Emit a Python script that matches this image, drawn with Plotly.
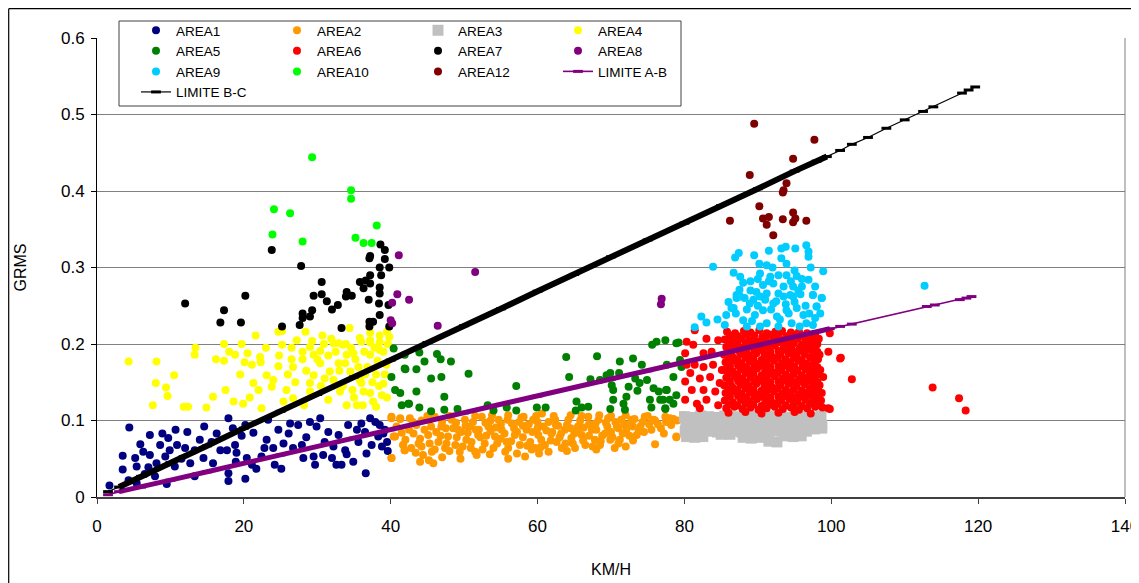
import plotly.graph_objects as go

# ---------------- data ----------------
AREA1 = [(4.4,0.091),(3.5,0.054),(3.5,0.036),(1.7,0.015),(5.2,0.051),(5.4,0.040),(5.9,0.069),(6.3,0.059),
         (7.2,0.081),(7.2,0.055),(7.0,0.039),(4.3,0.022),(5.4,0.018),(7.9,0.027),(8.1,0.044),(8.6,0.068),
         (8.9,0.083),(9.3,0.053),(9.5,0.017),(9.7,0.077),(9.9,0.061),(10.7,0.088),(10.9,0.068),(10.6,0.040),
         (12.3,0.085),(12.0,0.064),(12.7,0.044),(13.3,0.061),(13.3,0.027),(14.6,0.092),(14.5,0.051),(15.6,0.072),
         (15.8,0.044),(16.8,0.061),(17.9,0.103),(17.7,0.061),(17.9,0.031),(17.9,0.021),(18.5,0.090),(18.8,0.068),
         (18.9,0.046),(19.7,0.080),(20.2,0.094),(20.4,0.051),(20.2,0.024),(21.1,0.042),(21.3,0.084),(21.7,0.037),
         (22.4,0.053),(23.1,0.075),(23.3,0.101),(24.0,0.064),(24.2,0.042),(24.7,0.088),(25.1,0.037),(25.4,0.070),
         (26.1,0.083),(26.3,0.096),(26.7,0.064),(27.4,0.094),(27.9,0.068),(28.1,0.051),(29.0,0.098),(29.5,0.053),
         (29.7,0.042),(29.9,0.092),(30.4,0.103),(30.8,0.055),(31.5,0.085),(32.0,0.051),(32.2,0.066),(32.6,0.042),
         (32.9,0.081),(33.3,0.042),(33.8,0.061),(34.2,0.094),(34.9,0.046),(35.4,0.088),(35.6,0.072),(36.5,0.085),
         (36.6,0.031),(36.7,0.057),(37.2,0.103),(37.4,0.068),(37.9,0.098),(38.3,0.079),(38.8,0.066),(39.2,0.088),
         (39.5,0.072),(11.5,0.050),(6.5,0.030),(14.0,0.075),(16.3,0.083),(19.0,0.058),(22.8,0.064),(28.5,0.078),
         (31.0,0.072),(34.0,0.056),(36.0,0.096),(38.5,0.094),(39.0,0.083),(39.6,0.060)]

AREA2 = [(40.1,0.105),(40.4,0.079),(40.1,0.051),(41.3,0.102),(42.6,0.103),(41.7,0.068),(41.9,0.061),(43.1,0.083),
         (43.5,0.094),(43.8,0.070),(44.2,0.066),(44.4,0.055),(44.9,0.101),(45.1,0.081),(45.6,0.059),(45.8,0.044),
         (46.0,0.105),(46.5,0.072),(46.9,0.092),(47.4,0.064),(47.8,0.079),(48.3,0.101),(48.8,0.068),(49.2,0.088),
         (49.4,0.059),(50.1,0.101),(50.3,0.075),(50.8,0.092),(51.5,0.059),(51.7,0.055),(51.9,0.081),(52.4,0.105),
         (52.8,0.070),(53.3,0.092),(54.0,0.064),(54.2,0.079),(54.7,0.101),(55.1,0.088),(55.6,0.059),(55.8,0.072),
         (56.5,0.096),(56.9,0.081),(57.2,0.057),(57.6,0.068),(58.1,0.105),(58.3,0.053),(58.5,0.088),(59.0,0.072),
         (59.4,0.101),(59.6,0.064),(60.1,0.081),(60.6,0.109),(60.8,0.092),(61.0,0.068),(61.5,0.059),(61.9,0.083),
         (62.4,0.101),(62.6,0.072),(63.3,0.064),(63.7,0.088),(64.2,0.101),(64.6,0.077),(65.1,0.064),(65.5,0.092),
         (66.0,0.081),(66.5,0.068),(66.9,0.105),(67.4,0.088),(67.8,0.075),(68.3,0.101),(68.5,0.068),(69.2,0.083),
         (69.6,0.103),(69.9,0.075),(70.5,0.064),(70.8,0.092),(71.4,0.101),(72.1,0.088),(71.2,0.075),(72.8,0.101),
         (73.0,0.092),(73.5,0.081),(74.6,0.105),(75.8,0.101),(76.0,0.069),(77.4,0.105),(78.5,0.102),(78.9,0.078),
         (78.0,0.103),(78.9,0.079),(79.8,0.107),(40.1,0.103),(41.3,0.103),(40.6,0.079),(41.7,0.068),(41.9,0.061),
         (40.1,0.051),(42.5,0.088),(43.0,0.098),(44.0,0.076),(45.5,0.092),(46.2,0.085),(47.0,0.098),(47.6,0.070),
         (48.5,0.090),(49.0,0.078),(49.8,0.066),(50.5,0.084),(51.2,0.098),(51.0,0.072),(52.0,0.088),(52.5,0.062),
         (53.0,0.080),(53.6,0.100),(54.5,0.070),(55.0,0.095),(55.5,0.083),(56.0,0.064),(56.8,0.090),(57.5,0.098),
         (58.0,0.078),(58.8,0.095),(59.2,0.062),(60.0,0.090),(60.5,0.075),(61.5,0.098),(62.0,0.085),(62.8,0.093),
         (63.0,0.078),(63.8,0.070),(64.5,0.090),(65.0,0.083),(65.8,0.100),(66.2,0.074),(67.0,0.095),(67.5,0.066),
         (68.0,0.088),(68.8,0.080),(69.5,0.092),(70.0,0.085),(70.6,0.098),(71.0,0.070),(71.8,0.095),(72.5,0.080),
         (73.2,0.102),(74.0,0.092),(74.5,0.085),(75.2,0.095),(76.0,0.100),(76.8,0.090),(77.5,0.098),(45.0,0.106),
         (53.8,0.107),(57.8,0.104),(62.2,0.106),(66.0,0.106),(70.0,0.106),(45.2,0.048),(47.0,0.052),(49.5,0.050),
         (53.5,0.056),(56.0,0.050),(60.2,0.057),(64.0,0.060),(68.0,0.062),(72.0,0.066),(44.0,0.046),
         (40.8,0.092),(41.5,0.084),(42.0,0.075),(42.8,0.064),(43.4,0.058),(44.6,0.088),(45.3,0.070),(46.0,0.062),
         (46.8,0.080),(47.5,0.090),(48.0,0.060),(48.9,0.097),(49.6,0.085),(50.2,0.093),(50.9,0.064),(51.6,0.088),
         (52.2,0.078),(52.9,0.097),(53.6,0.086),(54.3,0.091),(55.0,0.076),(55.9,0.101),(56.4,0.073),(57.2,0.085),
         (58.0,0.093),(58.6,0.067),(59.3,0.085),(60.0,0.098),(60.4,0.065),(61.2,0.087),(61.8,0.074),(62.5,0.094),
         (63.2,0.083),(64.0,0.094),(64.8,0.070),(65.4,0.086),(66.3,0.091),(67.0,0.080),(67.9,0.096),(68.6,0.073),
         (69.3,0.097),(70.2,0.078),(71.0,0.090),(71.6,0.083),(72.4,0.094),(73.0,0.074),(73.8,0.086),(74.3,0.098),
         (75.5,0.088),(76.4,0.095),(77.2,0.083),(78.2,0.094),(79.0,0.100),(44.2,0.100),(48.0,0.106),(51.5,0.106),
         (56.0,0.107),(59.8,0.106),(64.5,0.107),(68.4,0.107),(72.0,0.107),(75.0,0.106)]

AREA3 = [(80.0,0.105),(81.1,0.104),(82.2,0.106),(83.3,0.105),(84.4,0.104),(85.5,0.106),(86.6,0.105),(87.7,0.104),
         (88.8,0.106),(89.9,0.105),(91.0,0.104),(92.1,0.106),(93.2,0.105),(94.3,0.104),(95.4,0.106),(96.5,0.105),
         (97.6,0.104),(98.6,0.106),
         (80.2,0.095),(81.3,0.096),(82.4,0.094),(83.5,0.095),(84.6,0.096),(85.7,0.094),(86.8,0.095),(87.9,0.096),
         (89.0,0.094),(90.1,0.095),(91.2,0.096),(92.3,0.094),(93.4,0.095),(94.5,0.096),(95.6,0.094),(96.7,0.095),
         (97.8,0.096),(98.7,0.094),
         (80.1,0.086),(81.2,0.085),(82.3,0.087),(83.4,0.086),(84.5,0.085),(85.6,0.087),(86.7,0.086),(87.8,0.085),
         (88.9,0.087),(90.0,0.086),(91.1,0.085),(92.2,0.087),(93.3,0.086),(94.4,0.085),(95.5,0.087),(96.6,0.086),
         (97.7,0.089),(98.7,0.090),
         (80.3,0.079),(81.4,0.078),(82.5,0.079),(88.0,0.078),(89.1,0.077),(90.2,0.078),(91.5,0.073),(92.6,0.072),
         (93.7,0.080),(94.8,0.079),(95.9,0.080),(85.0,0.082),(86.2,0.082)]

AREA4 = [(13.4,0.195),(17.3,0.200),(19.7,0.200),(21.6,0.211),(25.2,0.217),(25.2,0.199),(28.4,0.216),(29.3,0.204),
         (30.7,0.211),(31.9,0.207),(32.9,0.201),(33.9,0.200),(34.4,0.221),(35.8,0.208),(36.0,0.203),(37.2,0.215),
         (37.2,0.202),(38.5,0.211),(38.5,0.202),(39.8,0.209),(39.5,0.216),
         (4.3,0.177),(8.1,0.177),(13.3,0.186),(16.2,0.180),(17.3,0.178),(18.8,0.186),(20.1,0.176),(21.1,0.173),
         (22.2,0.183),(22.3,0.176),(24.7,0.171),(26.5,0.180),(28.0,0.180),(30.4,0.191),(29.5,0.186),(30.4,0.175),
         (32.2,0.201),(33.5,0.199),(34.0,0.186),(32.9,0.175),(31.7,0.164),(34.9,0.188),(37.2,0.205),(37.2,0.186),
         (38.5,0.192),(39.4,0.173),(35.6,0.170),(34.5,0.164),(35.8,0.153),(36.3,0.138),(37.2,0.136),(38.8,0.133),
         (37.6,0.125),(35.4,0.120),(34.0,0.120),(36.0,0.149),(31.5,0.127),(33.1,0.138),(32.2,0.153),(29.5,0.159),
         (29.0,0.149),(29.0,0.138),(28.2,0.120),(26.7,0.129),(25.4,0.125),(25.8,0.140),(23.8,0.144),(24.0,0.153),
         (23.1,0.159),(21.3,0.149),(22.4,0.116),(19.9,0.122),(18.6,0.125),(15.8,0.131),(14.9,0.117),(11.8,0.118),
         (12.4,0.118),(10.5,0.159),(8.0,0.149),(9.4,0.143),(9.6,0.132),(7.6,0.120),(24.7,0.216),(26.7,0.170),
         (38.0,0.160),(39.0,0.148),(33.5,0.145),(30.5,0.145),
         (26.5,0.195),(27.2,0.205),(28.0,0.190),(29.0,0.196),(30.0,0.180),(30.9,0.200),(31.5,0.185),(32.5,0.190),
         (33.0,0.165),(33.8,0.175),(34.6,0.195),(35.2,0.180),(36.4,0.190),(36.8,0.170),(37.8,0.195),(38.2,0.178),
         (39.0,0.190),(39.6,0.200),(36.5,0.160),(37.5,0.150),(38.4,0.145),(39.2,0.160),(34.8,0.140),(35.0,0.130),
         (36.2,0.120),(38.0,0.118),(39.5,0.130),(31.0,0.155),(28.5,0.165),(27.0,0.150),(26.0,0.160),(24.8,0.185),
         (23.0,0.195),(20.5,0.188),(18.0,0.190),(19.5,0.160),(22.0,0.140),(20.8,0.130),(17.5,0.140)]

AREA5 = [(40.4,0.194),(40.1,0.157),(40.6,0.140),(41.3,0.136),(41.5,0.120),(41.9,0.168),(42.4,0.122),
         (41.9,0.186),(43.9,0.189),(46.3,0.187),(46.8,0.180),(48.2,0.177),(44.6,0.177),(42.0,0.167),(43.5,0.167),
         (45.5,0.155),(46.9,0.157),(50.6,0.161),(43.5,0.138),(47.3,0.131),(42.5,0.122),(43.9,0.117),(45.5,0.112),
         (47.3,0.114),(49.1,0.115),(53.2,0.120),(54.0,0.113),(55.8,0.117),(57.1,0.145),(57.1,0.113),(59.9,0.117),
         (61.1,0.117),(63.9,0.183),(64.3,0.157),(68.1,0.184),(65.3,0.125),(65.2,0.113),(66.0,0.117),(66.9,0.118),
         (67.2,0.154),(68.5,0.153),(69.9,0.162),(69.4,0.159),(70.1,0.146),(70.3,0.140),(71.2,0.177),(71.1,0.162),
         (72.4,0.144),(72.1,0.131),(73.0,0.181),(73.3,0.155),(73.6,0.139),(73.9,0.149),(74.2,0.173),(70.3,0.127),
         (69.9,0.115),(71.7,0.122),(71.9,0.114),(74.9,0.153),(75.6,0.199),(76.2,0.203),(77.4,0.205),(79.2,0.202),
         (75.8,0.142),(76.5,0.138),(75.3,0.127),(75.5,0.117),(76.7,0.127),(77.5,0.140),(77.6,0.173),(78.5,0.157),
         (78.0,0.127),(77.4,0.115),(78.9,0.133),(79.4,0.179),(78.9,0.201),(77.6,0.140),(77.1,0.127),(78.5,0.122),
         (77.4,0.116),(79.6,0.170)]

AREA6 = [(81.4,0.218),(80.3,0.203),(81.2,0.199),(83.0,0.207),(82.6,0.188),(80.1,0.188),(80.3,0.173),(81.4,0.173),
         (82.6,0.170),(83.7,0.190),(83.9,0.173),(84.6,0.205),(80.8,0.162),(82.1,0.155),(80.1,0.151),(83.5,0.157),
         (81.0,0.140),(82.6,0.140),(84.2,0.138),(80.1,0.127),(81.7,0.122),(83.0,0.127),(82.1,0.116),(84.6,0.120),
         (84.8,0.149),(85.1,0.166),
         (85.8,0.216),(86.9,0.214),(88.1,0.217),(89.0,0.215),(90.2,0.218),(91.2,0.214),(92.4,0.216),(93.3,0.217),
         (94.5,0.215),(95.6,0.216),(96.7,0.214),(97.8,0.213),
         (85.5,0.206),(86.6,0.204),(87.7,0.207),(88.9,0.205),(89.9,0.203),(91.0,0.206),(92.1,0.208),(93.2,0.205),
         (94.4,0.204),(95.4,0.207),(96.5,0.205),(97.7,0.203),(98.3,0.207),
         (85.7,0.196),(86.8,0.198),(87.9,0.195),(89.1,0.197),(90.1,0.194),(91.3,0.196),(92.3,0.198),(93.5,0.195),
         (94.6,0.197),(95.7,0.194),(96.8,0.196),(97.9,0.198),
         (85.4,0.186),(86.5,0.184),(87.6,0.187),(88.7,0.185),(89.8,0.188),(90.9,0.186),(92.0,0.183),(93.1,0.186),
         (94.2,0.188),(95.3,0.185),(96.4,0.187),(97.5,0.184),(98.4,0.186),
         (85.6,0.176),(86.7,0.178),(87.8,0.175),(88.9,0.177),(90.0,0.174),(91.1,0.176),(92.2,0.178),(93.3,0.175),
         (94.4,0.176),(95.5,0.178),(96.6,0.174),(97.7,0.176),
         (85.5,0.166),(86.6,0.164),(87.7,0.167),(88.8,0.165),(89.9,0.168),(91.0,0.166),(92.1,0.163),(93.2,0.166),
         (94.3,0.168),(95.4,0.165),(96.5,0.167),(97.6,0.164),(98.5,0.166),
         (85.7,0.156),(86.8,0.158),(87.9,0.155),(89.0,0.157),(90.1,0.154),(91.2,0.156),(92.3,0.158),(93.4,0.155),
         (94.5,0.157),(95.6,0.154),(96.7,0.156),(97.8,0.158),
         (85.4,0.146),(86.5,0.144),(87.6,0.147),(88.7,0.145),(89.8,0.148),(90.9,0.146),(92.0,0.143),(93.1,0.146),
         (94.2,0.148),(95.3,0.145),(96.4,0.147),(97.5,0.144),(98.4,0.146),
         (85.6,0.136),(86.7,0.138),(87.8,0.135),(88.9,0.137),(90.0,0.134),(91.1,0.136),(92.2,0.138),(93.3,0.135),
         (94.4,0.137),(95.5,0.134),(96.6,0.136),(97.7,0.138),
         (85.5,0.126),(86.6,0.124),(87.7,0.127),(88.8,0.125),(89.9,0.128),(91.0,0.126),(92.1,0.123),(93.2,0.126),
         (94.3,0.128),(95.4,0.125),(96.5,0.127),(97.6,0.124),(98.6,0.126),
         (85.7,0.116),(86.8,0.118),(87.9,0.115),(89.0,0.117),(90.1,0.114),(91.2,0.116),(92.3,0.118),(93.4,0.115),
         (94.5,0.117),(95.6,0.114),(96.7,0.116),(97.8,0.118),(98.8,0.117),
         (86.0,0.110),(88.3,0.111),(90.5,0.109),(92.8,0.110),(95.0,0.111),(97.2,0.109),
         (86.2,0.211),(87.3,0.210),(88.4,0.212),(89.5,0.211),(90.6,0.209),(91.7,0.212),(92.8,0.211),(93.9,0.210),
         (95.0,0.212),(96.1,0.210),(97.2,0.209),
         (86.1,0.201),(87.2,0.200),(88.3,0.202),(89.4,0.201),(90.5,0.199),(91.6,0.201),(92.7,0.202),(93.8,0.200),
         (94.9,0.201),(96.0,0.199),(97.1,0.202),(98.1,0.200),
         (86.2,0.191),(87.3,0.192),(88.4,0.190),(89.5,0.191),(90.6,0.192),(91.7,0.190),(92.8,0.191),(93.9,0.192),
         (95.0,0.190),(96.1,0.191),(97.2,0.192),(98.1,0.190),
         (86.1,0.181),(87.2,0.180),(88.3,0.182),(89.4,0.181),(90.5,0.179),(91.6,0.181),(92.7,0.182),(93.8,0.180),
         (94.9,0.181),(96.0,0.179),(97.1,0.182),(98.2,0.180),
         (86.2,0.171),(87.3,0.172),(88.4,0.170),(89.5,0.171),(90.6,0.172),(91.7,0.170),(92.8,0.171),(93.9,0.172),
         (95.0,0.170),(96.1,0.171),(97.2,0.172),(98.1,0.170),
         (86.1,0.161),(87.2,0.160),(88.3,0.162),(89.4,0.161),(90.5,0.159),(91.6,0.161),(92.7,0.162),(93.8,0.160),
         (94.9,0.161),(96.0,0.159),(97.1,0.162),(98.2,0.160),
         (86.2,0.151),(87.3,0.152),(88.4,0.150),(89.5,0.151),(90.6,0.152),(91.7,0.150),(92.8,0.151),(93.9,0.152),
         (95.0,0.150),(96.1,0.151),(97.2,0.152),(98.1,0.150),
         (86.1,0.141),(87.2,0.140),(88.3,0.142),(89.4,0.141),(90.5,0.139),(91.6,0.141),(92.7,0.142),(93.8,0.140),
         (94.9,0.141),(96.0,0.139),(97.1,0.142),(98.2,0.140),
         (86.2,0.131),(87.3,0.132),(88.4,0.130),(89.5,0.131),(90.6,0.132),(91.7,0.130),(92.8,0.131),(93.9,0.132),
         (95.0,0.130),(96.1,0.131),(97.2,0.132),(98.1,0.130),
         (86.1,0.121),(87.2,0.120),(88.3,0.122),(89.4,0.121),(90.5,0.119),(91.6,0.121),(92.7,0.122),(93.8,0.120),
         (94.9,0.121),(96.0,0.119),(97.1,0.122),(98.2,0.120),
         (99.6,0.190),(101.2,0.181),(102.8,0.154),(98.9,0.157),(98.7,0.136),(99.6,0.116),(99.8,0.214),(101.3,0.182),
         (113.8,0.143),(117.4,0.129),(118.3,0.113),(99.8,0.115)]

AREA7 = [(23.8,0.323),(27.8,0.302),(39.2,0.323),(37.2,0.315),(37.1,0.312),(39.2,0.311),(38.5,0.300),(39.8,0.300),
         (38.7,0.290),(37.2,0.290),(35.8,0.281),(36.6,0.283),(37.2,0.279),(36.3,0.273),(30.6,0.281),(29.5,0.263),
         (30.6,0.265),(31.3,0.256),(34.0,0.268),(33.9,0.262),(34.7,0.263),(32.8,0.251),(32.0,0.245),(37.0,0.258),
         (38.5,0.274),(38.5,0.266),(38.4,0.253),(39.7,0.251),(38.5,0.238),(37.1,0.229),(37.6,0.229),(37.1,0.223),
         (39.8,0.223),(33.3,0.221),(28.0,0.240),(28.0,0.234),(29.3,0.244),(29.0,0.236),(27.6,0.225),(25.2,0.223),
         (20.2,0.263),(17.3,0.244),(16.8,0.228),(19.6,0.228),(12.0,0.253),(38.6,0.330)]

AREA8 = [(41.1,0.316),(40.9,0.265),(42.5,0.258),(40.2,0.254),(40.0,0.231),(40.2,0.227),(46.4,0.224),(51.5,0.294),
         (76.9,0.259),(76.8,0.252)]

AREA9 = [(83.9,0.301),(87.4,0.319),(86.9,0.313),(89.5,0.316),(91.5,0.322),(93.2,0.325),(93.8,0.327),(95.1,0.325),
         (96.6,0.329),(96.9,0.321),(96.9,0.314),(93.2,0.312),(93.9,0.305),(90.2,0.305),(91.2,0.303),(98.9,0.295),
         (86.7,0.293),(87.6,0.288),(90.3,0.292),(91.7,0.288),(92.8,0.290),(93.9,0.290),(95.3,0.289),(96.9,0.284),
         (90.7,0.277),(92.1,0.279),(93.5,0.275),(94.8,0.275),(96.0,0.275),(89.8,0.268),(91.2,0.266),(92.8,0.266),
         (94.4,0.264),(87.5,0.271),(88.2,0.260),(89.4,0.258),(87.1,0.260),(97.5,0.264),(98.7,0.260),(86.4,0.247),
         (98.0,0.249),(82.3,0.236),(81.4,0.222),(85.7,0.238),(85.5,0.225),(86.7,0.247),(87.6,0.262),(88.0,0.231),
         (88.9,0.253),(89.6,0.238),(90.3,0.262),(90.7,0.244),(91.2,0.227),(92.1,0.253),(92.6,0.236),(93.5,0.262),
         (93.9,0.244),(94.6,0.227),(94.8,0.262),(95.3,0.247),(96.2,0.238),(96.6,0.227),(97.5,0.264),(98.0,0.249),
         (97.8,0.234),(98.7,0.260),(87.1,0.264),(88.5,0.223),(90.3,0.223),(92.8,0.223),(95.7,0.223),(112.7,0.276),
         (89.0,0.282),(95.0,0.296),(92.0,0.300),(97.2,0.300),
         (86.0,0.255),(87.0,0.240),(88.5,0.245),(89.2,0.230),(90.0,0.250),(91.0,0.258),(91.8,0.245),(92.5,0.256),
         (93.0,0.232),(93.8,0.252),(94.2,0.240),(95.0,0.255),(95.8,0.265),(96.5,0.250),(97.0,0.240),(96.0,0.285),
         (94.5,0.282),(91.5,0.282),(90.0,0.285),(88.0,0.280),(89.0,0.270),(95.5,0.270),(97.8,0.275),(84.5,0.232),
         (83.0,0.228),(97.5,0.225),(98.5,0.240)]

AREA10 = [(29.3,0.444),(34.6,0.401),(34.6,0.390),(24.1,0.376),(26.3,0.371),(23.9,0.343),(28.0,0.334),(38.1,0.355),
          (35.2,0.339),(36.3,0.332),(37.4,0.332)]

AREA12 = [(89.5,0.488),(97.7,0.467),(94.8,0.442),(88.9,0.421),(93.9,0.410),(93.5,0.401),(93.4,0.398),(90.2,0.380),
          (86.2,0.361),(90.7,0.364),(91.5,0.366),(91.2,0.356),(93.4,0.363),(94.8,0.372),(95.1,0.364),(94.8,0.359),
          (96.6,0.361),(92.1,0.342)]

LIMITE_AB_X = [1.5, 3.0, 6.0, 10.0, 15.0, 20.0, 25.0, 30.0, 35.0, 40.0, 45.0, 50.0, 55.0, 60.0, 65.0, 70.0,
               75.0, 80.0, 85.0, 90.0, 95.0, 98.0, 99.8, 101.2, 102.8, 113.0, 114.1, 117.5, 118.4, 119.1]
LIMITE_AB_Y = [0.003, 0.007, 0.013, 0.022, 0.033, 0.044, 0.055, 0.066, 0.077, 0.088, 0.099, 0.110, 0.121, 0.132,
               0.143, 0.154, 0.165, 0.176, 0.187, 0.198, 0.209, 0.216, 0.220, 0.223, 0.226, 0.249, 0.251, 0.258,
               0.260, 0.262]

LIMITE_BC_X = [1.5, 3.0, 6.0, 10.0, 15.0, 20.0, 25.0, 30.0, 35.0, 40.0, 45.0, 50.0, 55.0, 60.0, 65.0, 70.0,
               75.0, 80.0, 85.0, 90.0, 95.0, 98.0, 99.4, 101.2, 102.8, 105.0, 107.5, 110.0, 112.5, 113.9, 117.8,
               118.7, 119.6]
LIMITE_BC_Y = [0.007, 0.013, 0.027, 0.045, 0.067, 0.090, 0.112, 0.134, 0.157, 0.179, 0.202, 0.224, 0.246, 0.269,
               0.291, 0.314, 0.336, 0.358, 0.381, 0.403, 0.426, 0.439, 0.445, 0.453, 0.461, 0.470, 0.482, 0.493,
               0.504, 0.510, 0.528, 0.532, 0.536]

X_TICKS = [0, 20, 40, 60, 80, 100, 120, 140]
Y_TICKS = [0, 0.1, 0.2, 0.3, 0.4, 0.5, 0.6]
Y_TICK_TEXT = ["0", "0.1", "0.2", "0.3", "0.4", "0.5", "0.6"]

# ---------------- figure ----------------
FONT = "Liberation Sans, Arial, sans-serif"
PAGE_OFF = 8                      # page body margin of the browser
W, H = 1139, 583
ML, MT = 97 - PAGE_OFF, 38 - PAGE_OFF
PW, PH = 1028, 459
MR, MB = W - ML - PW, H - MT - PH


def pxx(px):  # screen pixel x -> paper x
    return (px - PAGE_OFF - ML) / PW


def pxy(py):  # screen pixel y -> paper y
    return (MT + PH - (py - PAGE_OFF)) / PH


areas = [
    ("AREA1", AREA1, "#000080", "circle", 8, "legend"),
    ("AREA2", AREA2, "#FF9900", "circle", 8, "legend2"),
    ("AREA3", AREA3, "#C0C0C0", "square", 11, "legend3"),
    ("AREA4", AREA4, "#FFFF00", "circle", 8, "legend4"),
    ("AREA5", AREA5, "#008000", "circle", 8, "legend"),
    ("AREA6", AREA6, "#FF0000", "circle", 8, "legend2"),
    ("AREA7", AREA7, "#000000", "circle", 8, "legend3"),
    ("AREA8", AREA8, "#800080", "circle", 8, "legend4"),
    ("AREA9", AREA9, "#00CCFF", "circle", 8, "legend"),
    ("AREA10", AREA10, "#00FF00", "circle", 8, "legend2"),
    ("AREA12", AREA12, "#800000", "circle", 8, "legend3"),
]

fig = go.Figure()
for name, pts, color, sym, size, leg in areas:
    fig.add_trace(go.Scatter(
        x=[p[0] for p in pts], y=[p[1] for p in pts], mode="markers", name=name,
        marker=dict(color=color, symbol=sym, size=size, line=dict(width=0)),
        legend=leg,
    ))

# limit lines: dense thick part + thin line with dash markers
for name, xs, ys, color, lcolor, lwidth, bwidth, nband, leg in [
        ("LIMITE A-B", LIMITE_AB_X, LIMITE_AB_Y, "#800080", "#800080", 1.6, 5, 23, "legend4"),
        ("LIMITE B-C", LIMITE_BC_X, LIMITE_BC_Y, "#000000", "#000000", 1.2, 6, 23, "legend")]:
    fig.add_trace(go.Scatter(
        x=xs[1:nband], y=ys[1:nband], mode="lines", line=dict(color=color, width=bwidth),
        showlegend=False, legendgroup=name, hoverinfo="skip", legend=leg))
    fig.add_trace(go.Scatter(
        x=xs, y=ys, mode="lines+markers", name=name, legendgroup=name,
        line=dict(color=lcolor, width=lwidth),
        marker=dict(symbol="line-ew", size=7, color=color, line=dict(width=3, color=color)),
        legend=leg))

leg_common = dict(font=dict(family=FONT, size=13.5, color="black"), bgcolor="rgba(0,0,0,0)",
                  borderwidth=0, xanchor="left", yanchor="top", orientation="v",
                  traceorder="normal", tracegroupgap=0,
                  itemclick=False, itemdoubleclick=False)
legend_top = pxy(15)
fig.update_layout(
    legend=dict(x=pxx(136), y=legend_top, **leg_common),
    legend2=dict(x=pxx(277), y=legend_top, **leg_common),
    legend3=dict(x=pxx(418), y=legend_top, **leg_common),
    legend4=dict(x=pxx(558), y=legend_top, **leg_common),
)

fig.update_layout(
    width=W, height=H,
    margin=dict(l=ML, r=MR, t=MT, b=MB, autoexpand=False),
    paper_bgcolor="white", plot_bgcolor="white",
    font=dict(family=FONT, color="black"),
    xaxis=dict(range=[0, 140], tickvals=X_TICKS, ticktext=[str(v) for v in X_TICKS],
               showgrid=False, zeroline=False, showline=True, linecolor="#404040", linewidth=2,
               ticks="outside", ticklen=5, tickcolor="#404040", tickfont=dict(size=17),
               ticklabelstandoff=8,
               title=dict(text="KM/H", font=dict(size=16), standoff=28)),
    yaxis=dict(range=[0, 0.6], tickvals=Y_TICKS, ticktext=Y_TICK_TEXT,
               showgrid=True, gridcolor="#808080", gridwidth=1, zeroline=False,
               showline=True, linecolor="black", linewidth=1,
               ticks="outside", ticklen=5, tickcolor="black", tickfont=dict(size=17),
               ticklabelstandoff=3,
               title=dict(text="GRMS", font=dict(size=16), standoff=30)),
    shapes=[
        # legend frame
        dict(type="rect", xref="paper", yref="paper", x0=pxx(119), x1=pxx(681), y0=pxy(106), y1=pxy(21),
             line=dict(color="#404040", width=1), fillcolor="white", layer="above"),
        # right border of plot area
        dict(type="line", xref="paper", yref="paper", x0=1, x1=1, y0=0, y1=1,
             line=dict(color="#808080", width=1)),
        # outer chart frame (left and top edges visible)
        dict(type="line", xref="paper", yref="paper", x0=pxx(8.7), x1=pxx(8.7), y0=pxy(600), y1=pxy(8.7),
             line=dict(color="black", width=1.2)),
        dict(type="line", xref="paper", yref="paper", x0=pxx(8.7), x1=pxx(1150), y0=pxy(8.7), y1=pxy(8.7),
             line=dict(color="black", width=1.2)),
    ],
)

fig.write_html("out.html")
